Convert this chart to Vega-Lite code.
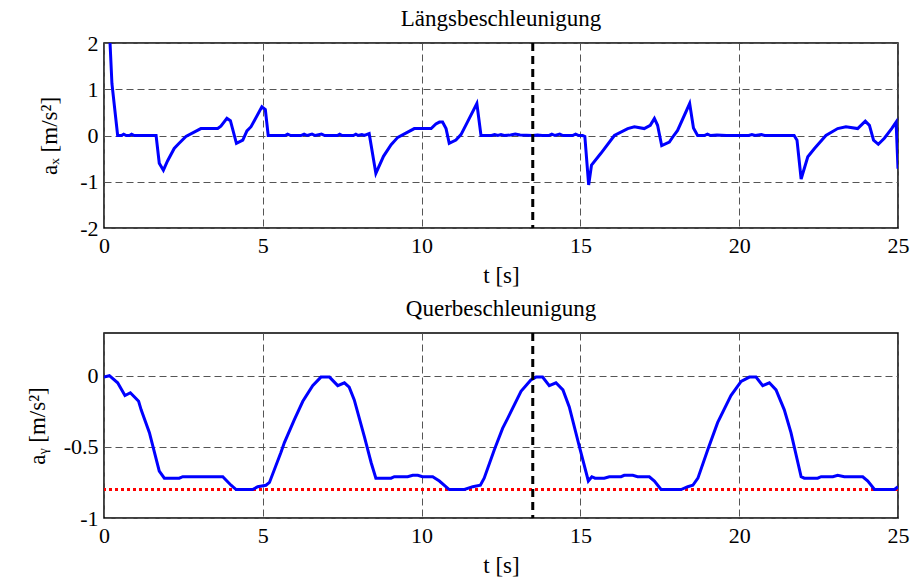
{
  "$schema": "https://vega.github.io/schema/vega-lite/v6.json",
  "background": "white",
  "padding": {"left": 25, "top": 7, "right": 0, "bottom": 0},
  "spacing": 8,
  "config": {
    "font": "Liberation Serif",
    "view": {"stroke": "black", "strokeWidth": 1.5},
    "axis": {
      "labelFont": "Liberation Serif", "labelFontSize": 22, "labelColor": "black", "labelFlush": false,
      "titleFont": "Liberation Serif", "titleFontSize": 23, "titleFontWeight": "normal", "titleColor": "black",
      "domain": false, "ticks": false, "grid": true, "gridColor": "#555555", "gridDash": [7, 4],
      "gridWidth": 1, "gridOpacity": 1, "labelPadding": 7
    },
    "title": {"font": "Liberation Serif", "fontSize": 23, "fontWeight": "normal", "color": "black"}
  },
  "datasets": {
    "ax": [
      {"t": 0.19, "v": 2.0}, {"t": 0.25, "v": 1.12}, {"t": 0.43, "v": 0}, {"t": 0.55, "v": 0}, {"t": 0.62, "v": 0.03},
      {"t": 0.7, "v": 0}, {"t": 0.8, "v": 0}, {"t": 0.87, "v": 0.03}, {"t": 0.95, "v": 0}, {"t": 1.64, "v": 0},
      {"t": 1.74, "v": -0.6}, {"t": 1.87, "v": -0.75}, {"t": 2.0, "v": -0.55}, {"t": 2.21, "v": -0.28}, {"t": 2.35, "v": -0.18},
      {"t": 2.58, "v": -0.02}, {"t": 3.05, "v": 0.15}, {"t": 3.58, "v": 0.15}, {"t": 3.68, "v": 0.2}, {"t": 3.87, "v": 0.37},
      {"t": 3.98, "v": 0.32}, {"t": 4.17, "v": -0.17}, {"t": 4.37, "v": -0.1}, {"t": 4.5, "v": 0.1}, {"t": 4.63, "v": 0.19},
      {"t": 4.97, "v": 0.62}, {"t": 5.08, "v": 0.56}, {"t": 5.17, "v": 0}, {"t": 5.7, "v": 0}, {"t": 5.78, "v": 0.03},
      {"t": 5.88, "v": 0}, {"t": 6.2, "v": 0}, {"t": 6.3, "v": 0.03}, {"t": 6.4, "v": 0}, {"t": 6.55, "v": 0.03},
      {"t": 6.65, "v": 0}, {"t": 6.85, "v": 0.03}, {"t": 6.95, "v": 0}, {"t": 7.35, "v": 0}, {"t": 7.42, "v": 0.03},
      {"t": 7.5, "v": 0}, {"t": 7.85, "v": 0}, {"t": 7.93, "v": 0.03}, {"t": 8.0, "v": 0}, {"t": 8.12, "v": 0.02},
      {"t": 8.2, "v": 0}, {"t": 8.35, "v": 0.04}, {"t": 8.56, "v": -0.82}, {"t": 8.8, "v": -0.45}, {"t": 9.04, "v": -0.2},
      {"t": 9.25, "v": -0.04}, {"t": 9.77, "v": 0.15}, {"t": 10.3, "v": 0.15}, {"t": 10.45, "v": 0.25}, {"t": 10.56, "v": 0.29},
      {"t": 10.66, "v": 0.29}, {"t": 10.77, "v": 0.15}, {"t": 10.87, "v": -0.17}, {"t": 11.08, "v": -0.1}, {"t": 11.24, "v": 0.02},
      {"t": 11.45, "v": 0.3}, {"t": 11.74, "v": 0.69}, {"t": 11.87, "v": 0}, {"t": 12.2, "v": 0}, {"t": 12.3, "v": 0.02},
      {"t": 12.4, "v": 0}, {"t": 12.5, "v": 0.02}, {"t": 12.6, "v": 0}, {"t": 12.8, "v": 0.01}, {"t": 12.95, "v": 0.03},
      {"t": 13.1, "v": 0.01}, {"t": 13.5, "v": 0}, {"t": 13.65, "v": 0.01}, {"t": 13.8, "v": 0}, {"t": 14.0, "v": 0},
      {"t": 14.1, "v": 0.03}, {"t": 14.2, "v": 0}, {"t": 14.35, "v": 0.03}, {"t": 14.45, "v": 0}, {"t": 14.75, "v": 0},
      {"t": 14.85, "v": 0.03}, {"t": 14.95, "v": 0}, {"t": 15.07, "v": 0}, {"t": 15.14, "v": -0.02}, {"t": 15.26, "v": -1.07},
      {"t": 15.35, "v": -0.64}, {"t": 15.64, "v": -0.39}, {"t": 16.07, "v": 0}, {"t": 16.49, "v": 0.15}, {"t": 16.7, "v": 0.19},
      {"t": 17.01, "v": 0.15}, {"t": 17.2, "v": 0.22}, {"t": 17.33, "v": 0.37}, {"t": 17.43, "v": 0.22}, {"t": 17.56, "v": -0.22},
      {"t": 17.8, "v": -0.14}, {"t": 17.94, "v": 0}, {"t": 18.06, "v": 0.11}, {"t": 18.44, "v": 0.69}, {"t": 18.56, "v": 0.16},
      {"t": 18.69, "v": 0}, {"t": 18.9, "v": 0}, {"t": 19.0, "v": 0.03}, {"t": 19.1, "v": 0}, {"t": 19.3, "v": 0.01},
      {"t": 19.6, "v": 0}, {"t": 20.3, "v": 0}, {"t": 20.4, "v": 0.02}, {"t": 20.5, "v": 0}, {"t": 20.7, "v": 0.02},
      {"t": 20.8, "v": 0}, {"t": 21.73, "v": 0}, {"t": 21.82, "v": -0.1}, {"t": 21.95, "v": -0.94}, {"t": 22.16, "v": -0.46},
      {"t": 22.37, "v": -0.28}, {"t": 22.73, "v": 0}, {"t": 23.1, "v": 0.15}, {"t": 23.36, "v": 0.19}, {"t": 23.73, "v": 0.15},
      {"t": 23.97, "v": 0.31}, {"t": 24.1, "v": 0.22}, {"t": 24.23, "v": -0.1}, {"t": 24.38, "v": -0.19}, {"t": 24.57, "v": -0.06},
      {"t": 24.8, "v": 0.15}, {"t": 24.94, "v": 0.29}, {"t": 25.0, "v": -0.72}
    ],
    "ay": [
      {"t": 0, "v": -0.01}, {"t": 0.17, "v": 0}, {"t": 0.43, "v": -0.05}, {"t": 0.66, "v": -0.14}, {"t": 0.83, "v": -0.12},
      {"t": 0.96, "v": -0.15}, {"t": 1.09, "v": -0.18}, {"t": 1.17, "v": -0.24}, {"t": 1.43, "v": -0.4}, {"t": 1.74, "v": -0.67},
      {"t": 1.9, "v": -0.72}, {"t": 2.37, "v": -0.72}, {"t": 2.48, "v": -0.71}, {"t": 3.74, "v": -0.71}, {"t": 4.0, "v": -0.77},
      {"t": 4.16, "v": -0.8}, {"t": 4.68, "v": -0.8}, {"t": 4.84, "v": -0.78}, {"t": 5.1, "v": -0.77}, {"t": 5.21, "v": -0.75},
      {"t": 5.57, "v": -0.54}, {"t": 5.68, "v": -0.47}, {"t": 5.99, "v": -0.31}, {"t": 6.26, "v": -0.18}, {"t": 6.57, "v": -0.07},
      {"t": 6.83, "v": -0.01}, {"t": 7.1, "v": -0.01}, {"t": 7.36, "v": -0.07}, {"t": 7.57, "v": -0.05}, {"t": 7.72, "v": -0.08},
      {"t": 7.88, "v": -0.17}, {"t": 8.2, "v": -0.43}, {"t": 8.41, "v": -0.61}, {"t": 8.56, "v": -0.72}, {"t": 9.04, "v": -0.72},
      {"t": 9.14, "v": -0.71}, {"t": 9.56, "v": -0.71}, {"t": 9.72, "v": -0.7}, {"t": 9.88, "v": -0.7}, {"t": 10.03, "v": -0.71},
      {"t": 10.35, "v": -0.71}, {"t": 10.56, "v": -0.74}, {"t": 10.87, "v": -0.8}, {"t": 11.35, "v": -0.8}, {"t": 11.61, "v": -0.78},
      {"t": 11.85, "v": -0.77}, {"t": 11.97, "v": -0.72}, {"t": 12.29, "v": -0.52}, {"t": 12.55, "v": -0.37}, {"t": 12.71, "v": -0.3},
      {"t": 13.13, "v": -0.11}, {"t": 13.44, "v": -0.03}, {"t": 13.6, "v": -0.01}, {"t": 13.81, "v": -0.01}, {"t": 14.02, "v": -0.07},
      {"t": 14.23, "v": -0.05}, {"t": 14.45, "v": -0.1}, {"t": 14.65, "v": -0.22}, {"t": 14.97, "v": -0.5}, {"t": 15.25, "v": -0.74},
      {"t": 15.36, "v": -0.71}, {"t": 15.46, "v": -0.72}, {"t": 15.75, "v": -0.72}, {"t": 15.91, "v": -0.71}, {"t": 16.28, "v": -0.71},
      {"t": 16.38, "v": -0.7}, {"t": 16.65, "v": -0.7}, {"t": 16.8, "v": -0.71}, {"t": 17.17, "v": -0.71}, {"t": 17.33, "v": -0.74},
      {"t": 17.54, "v": -0.8}, {"t": 18.17, "v": -0.8}, {"t": 18.38, "v": -0.78}, {"t": 18.54, "v": -0.77}, {"t": 18.7, "v": -0.72},
      {"t": 19.01, "v": -0.52}, {"t": 19.32, "v": -0.33}, {"t": 19.74, "v": -0.14}, {"t": 20.06, "v": -0.04}, {"t": 20.32, "v": -0.01},
      {"t": 20.53, "v": -0.01}, {"t": 20.74, "v": -0.07}, {"t": 20.95, "v": -0.05}, {"t": 21.16, "v": -0.1}, {"t": 21.42, "v": -0.24},
      {"t": 21.63, "v": -0.4}, {"t": 21.95, "v": -0.71}, {"t": 22.05, "v": -0.72}, {"t": 22.47, "v": -0.72}, {"t": 22.58, "v": -0.71},
      {"t": 22.95, "v": -0.71}, {"t": 23.1, "v": -0.7}, {"t": 23.31, "v": -0.71}, {"t": 23.89, "v": -0.71}, {"t": 24.05, "v": -0.74},
      {"t": 24.26, "v": -0.8}, {"t": 24.89, "v": -0.8}, {"t": 25.0, "v": -0.78}
    ],
    "marker": [{"t": 13.5}],
    "limit": [{"v": -0.8}]
  },
  "vconcat": [
    {
      "width": 794, "height": 185,
      "title": {"text": "Längsbeschleunigung", "offset": 1},
      "layer": [
        {
          "data": {"name": "ax"},
          "mark": {"type": "line", "color": "#0000ff", "strokeWidth": 3, "clip": true},
          "encoding": {
            "x": {"field": "t", "type": "quantitative", "scale": {"domain": [0, 25], "nice": false},
                  "axis": {"values": [0, 5, 10, 15, 20, 25], "title": "t [s]", "titlePadding": 8}},
            "y": {"field": "v", "type": "quantitative", "scale": {"domain": [-2, 2], "nice": false},
                  "axis": {"values": [-2, -1, 0, 1, 2], "title": "aₓ [m/s²]", "titlePadding": 18, "labelPadding": 6,
                           "labelExpr": "replace(format(datum.value, '~g'), '−', '-')"}}
          }
        },
        {
          "data": {"name": "marker"},
          "mark": {"type": "rule", "color": "black", "strokeWidth": 3, "strokeDash": [8, 5]},
          "encoding": {"x": {"field": "t", "type": "quantitative"}}
        }
      ]
    },
    {
      "width": 794, "height": 185,
      "title": {"text": "Querbeschleunigung", "offset": 11},
      "layer": [
        {
          "data": {"name": "limit"},
          "mark": {"type": "rule", "color": "#ff0000", "strokeWidth": 3, "strokeDash": [3, 3]},
          "encoding": {"y": {"field": "v", "type": "quantitative"}}
        },
        {
          "data": {"name": "ay"},
          "mark": {"type": "line", "color": "#0000ff", "strokeWidth": 3, "clip": true},
          "encoding": {
            "x": {"field": "t", "type": "quantitative", "scale": {"domain": [0, 25], "nice": false},
                  "axis": {"values": [0, 5, 10, 15, 20, 25], "title": "t [s]", "titlePadding": 8}},
            "y": {"field": "v", "type": "quantitative", "scale": {"domain": [-1, 0.3], "nice": false, "zero": false},
                  "axis": {"values": [-1, -0.5, 0], "title": "aᵧ [m/s²]", "titlePadding": 14, "labelPadding": 6,
                           "labelExpr": "replace(format(datum.value, '~g'), '−', '-')"}}
          }
        },
        {
          "data": {"name": "marker"},
          "mark": {"type": "rule", "color": "black", "strokeWidth": 3, "strokeDash": [8, 5]},
          "encoding": {"x": {"field": "t", "type": "quantitative"}}
        }
      ]
    }
  ]
}
